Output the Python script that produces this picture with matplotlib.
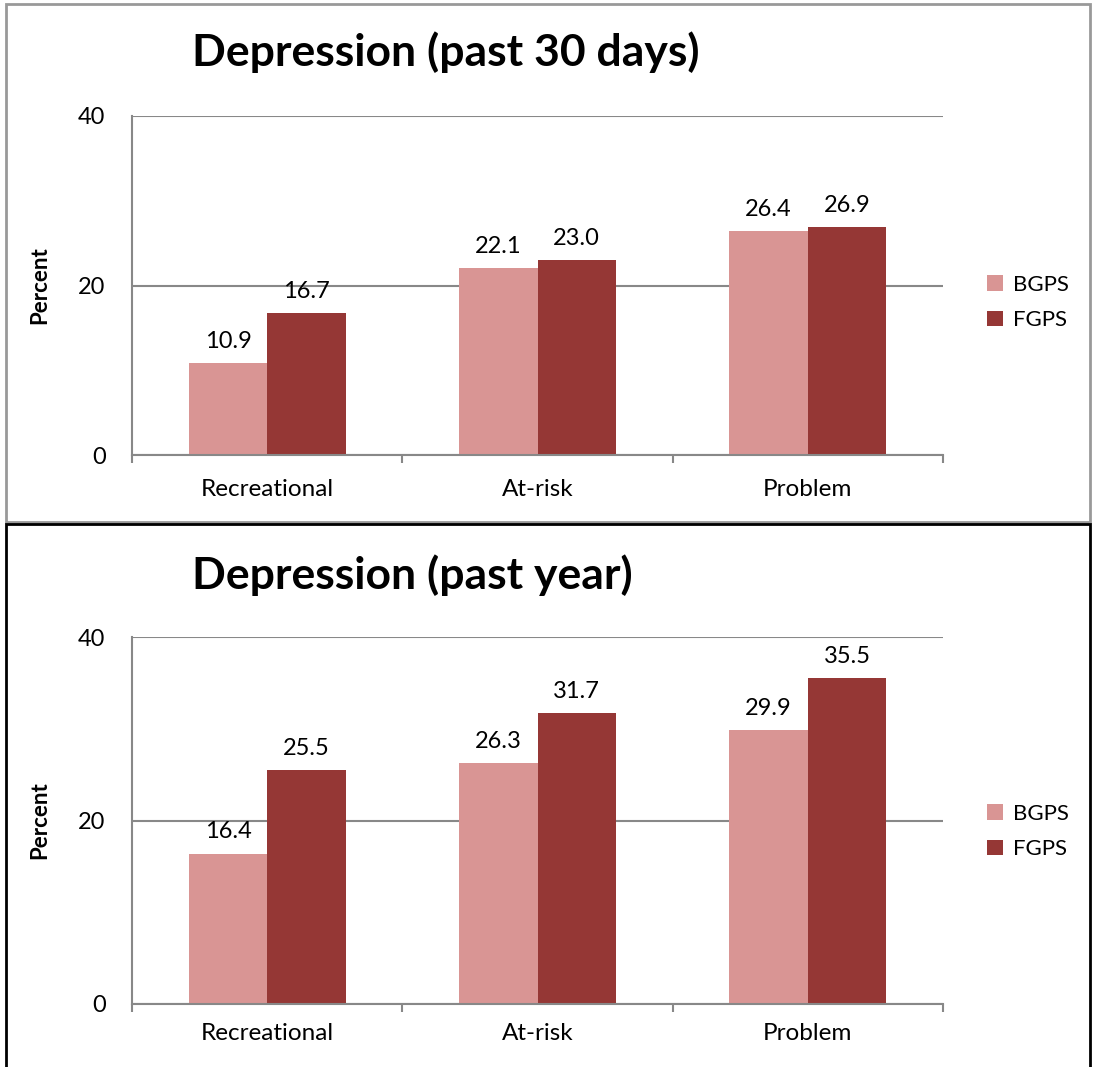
import matplotlib.pyplot as plt
from matplotlib.patches import Rectangle
from matplotlib.ticker import FixedLocator

plt.rcParams['font.family'] = ['Lato', 'DejaVu Sans']

groups = ["Recreational", "At-risk", "Problem"]
series_names = ["BGPS", "FGPS"]
bgps_30days = [10.9, 22.1, 26.4]
fgps_30days = [16.7, 23.0, 26.9]
bgps_year = [16.4, 26.3, 29.9]
fgps_year = [25.5, 31.7, 35.5]
y_ticks = [0, 20, 40]

colors = ["#D99594", "#953735"]
grid_color = "#888888"
W, H = 1095, 1067


def px_box(x0, y0, x1, y1):
    # pixel box (top-left origin) -> figure fraction [left, bottom, width, height]
    return [x0 / W, 1 - y1 / H, (x1 - x0) / W, (y1 - y0) / H]


def draw_panel(fig, box, title, title_y, bgps, fgps, legend_y, label_pad):
    ax = fig.add_axes(box)
    x = list(range(len(groups)))
    w = 0.29
    for i, (vals, name) in enumerate(zip([bgps, fgps], series_names)):
        pos = [xi + (i - 0.5) * w for xi in x]
        ax.bar(pos, vals, width=w, color=colors[i], label=name, zorder=2)
        for p, v in zip(pos, vals):
            ax.annotate(f"{v:.1f}", (p, v), xytext=(0, 8), textcoords="offset points",
                        ha="center", va="bottom", fontsize=17)

    ax.set_xlim(-0.5, len(groups) - 0.5)
    ax.set_ylim(0, 40)
    ax.set_yticks(y_ticks)
    ax.yaxis.grid(True, color=grid_color, linewidth=1.5, zorder=0)
    ax.set_axisbelow(True)
    ax.tick_params(axis="y", length=0, pad=19, labelsize=17)
    ax.set_xticks(x)
    ax.set_xticklabels(groups)
    ax.xaxis.set_minor_locator(FixedLocator([-0.5, 0.5, 1.5, 2.5]))
    ax.tick_params(axis="x", which="major", length=0, pad=label_pad, labelsize=17.5)
    ax.tick_params(axis="x", which="minor", length=6, width=1.5, color=grid_color)
    for s in ["top", "right"]:
        ax.spines[s].set_visible(False)
    for s in ["left", "bottom"]:
        ax.spines[s].set_color(grid_color)
        ax.spines[s].set_linewidth(1.5)

    ax.set_ylabel("Percent", fontsize=16, fontweight="bold", labelpad=20)
    fig.text(192 / W, 1 - title_y / H, title, fontsize=32, fontweight="bold",
             ha="left", va="center")
    ax.legend(loc="center left", bbox_to_anchor=(1.03, legend_y), frameon=False,
              fontsize=16, handlelength=0.7, handleheight=0.7,
              handletextpad=0.45, labelspacing=0.7)
    return ax


fig = plt.figure(figsize=(W / 100, H / 100), dpi=100)

# panel frames
fig.patches.append(Rectangle((6 / W, 1 - 522 / H), 1084 / W, 518 / H, transform=fig.transFigure,
                             fill=False, edgecolor="#999999", linewidth=2))
fig.patches.append(Rectangle((6 / W, -0.01), 1084 / W, (H - 524) / H + 0.01, transform=fig.transFigure,
                             fill=False, edgecolor="black", linewidth=2))

draw_panel(fig, px_box(132, 116, 943, 455), "Depression (past 30 days)", 52,
           bgps_30days, fgps_30days, 0.45, 17)
draw_panel(fig, px_box(132, 637, 943, 1004), "Depression (past year)", 575,
           bgps_year, fgps_year, 0.47, 14)

fig.savefig("out.png", dpi=100)
